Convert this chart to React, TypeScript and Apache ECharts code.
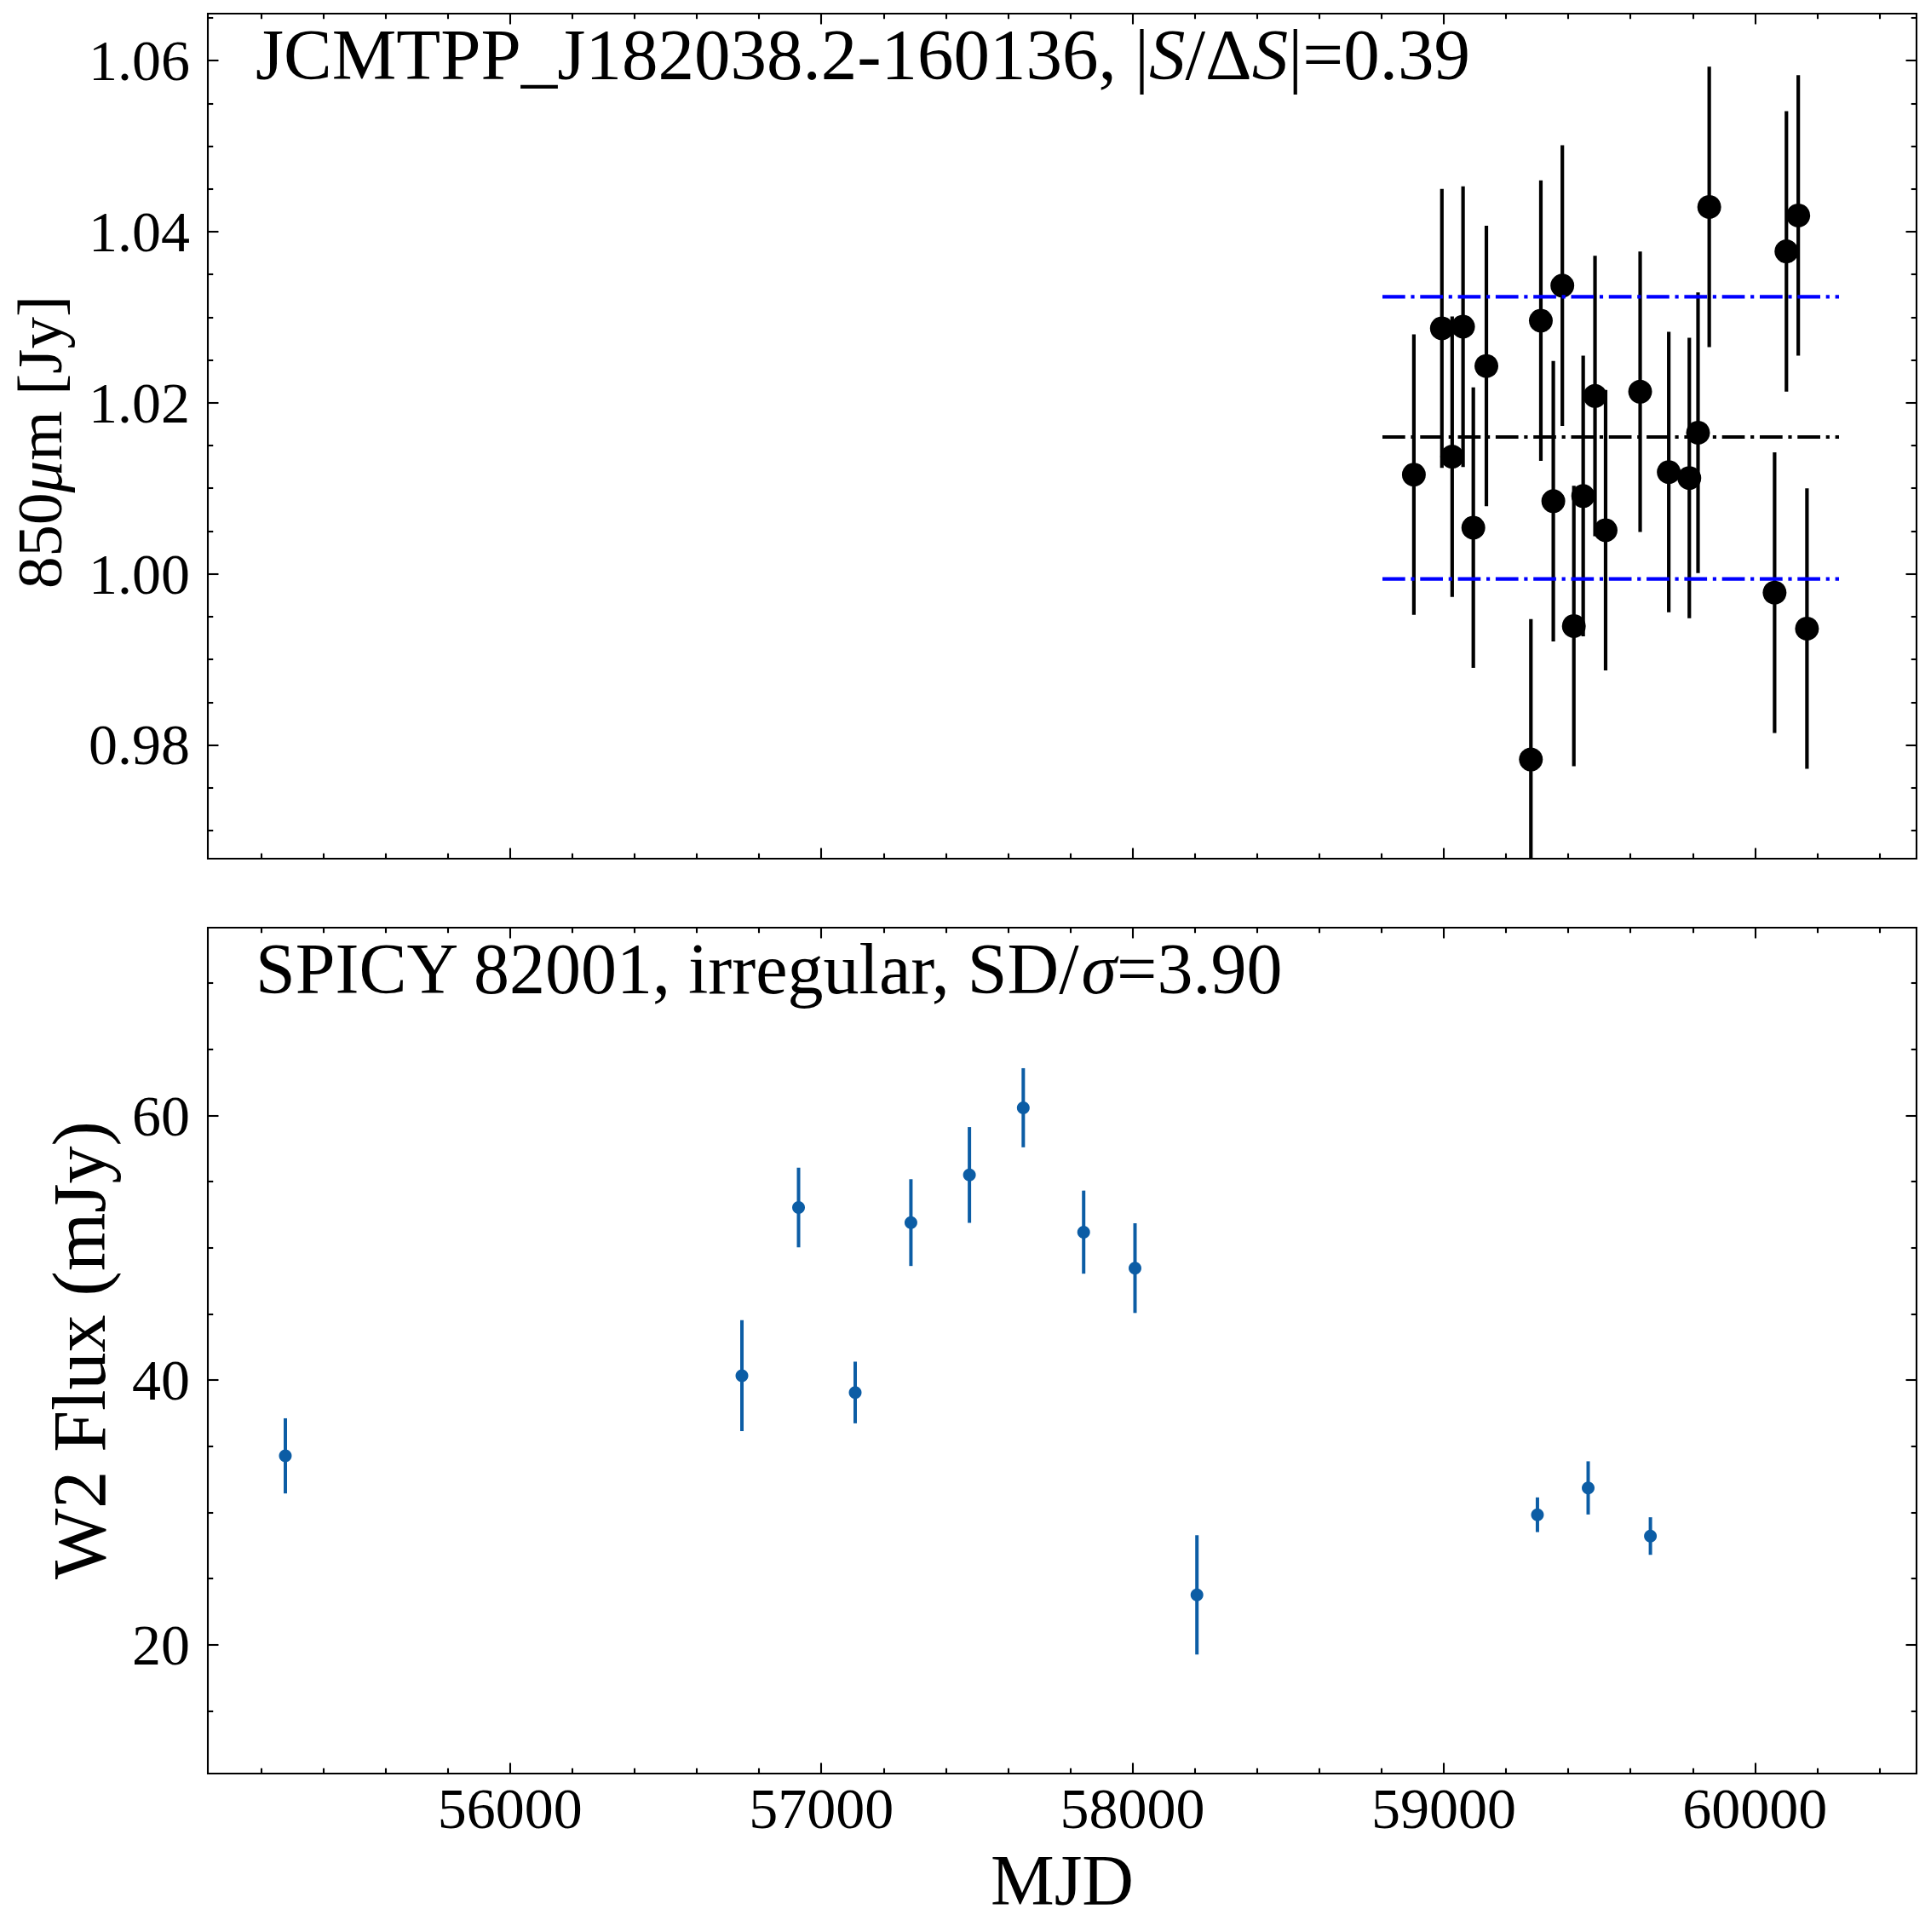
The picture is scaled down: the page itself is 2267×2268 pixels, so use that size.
import React, { useEffect, useRef } from "react";
import * as echarts from "echarts";

const FONT = "'Liberation Serif', 'Times New Roman', 'DejaVu Serif', serif";

// ---- Top panel: JCMT 850 micron ----
const jcmtMjd = [58904, 58994, 59027, 59062, 59095, 59137, 59280, 59312, 59352, 59381, 59418, 59448, 59486, 59520, 59631, 59723, 59789, 59817, 59853, 60063, 60101, 60139, 60167];
const jcmtFlux = [1.0116, 1.0287, 1.0137, 1.0289, 1.0054, 1.0243, 0.9783, 1.0296, 1.0085, 1.0337, 0.9939, 1.0091, 1.0208, 1.0051, 1.0213, 1.0119, 1.0112, 1.0165, 1.0429, 0.9978, 1.0377, 1.0419, 0.9936];
const jcmtErr = [0.0164, 0.0163, 0.0164, 0.0164, 0.0164, 0.0164, 0.0164, 0.0164, 0.0164, 0.0164, 0.0164, 0.0164, 0.0164, 0.0164, 0.0164, 0.0164, 0.0164, 0.0164, 0.0164, 0.0164, 0.0164, 0.0164, 0.0164];
const meanLevel = 1.016;
const sigmaLevels = [0.9994, 1.0324];
const hlineSpan = [58803, 60270];

// ---- Bottom panel: WISE W2 ----
const wiseMjd = [55278, 56745, 56927, 57109, 57288, 57476, 57649, 57843, 58008, 58207, 59301, 59464, 59664];
const wiseFlux = [34.28, 40.34, 53.05, 39.07, 51.91, 55.51, 60.59, 51.19, 48.47, 23.77, 29.83, 31.86, 28.22];
const wiseErr = [2.84, 4.19, 3.01, 2.33, 3.28, 3.62, 2.99, 3.14, 3.39, 4.51, 1.31, 2.01, 1.42];

// ---- Axes ----
const xRange = [55029, 60519];
const topYRange = [0.9667, 1.0655];
const botYRange = [10.27, 74.2];

const xMajor = [56000, 57000, 58000, 59000, 60000];
const xMinor = [55200, 55400, 55600, 55800, 56200, 56400, 56600, 56800, 57200, 57400, 57600, 57800, 58200, 58400, 58600, 58800, 59200, 59400, 59600, 59800, 60200, 60400];
const topYMajor = [0.98, 1.0, 1.02, 1.04, 1.06];
const topYMinor = [0.97, 0.975, 0.985, 0.99, 0.995, 1.005, 1.01, 1.015, 1.025, 1.03, 1.035, 1.045, 1.05, 1.055, 1.065];
const botYMajor = [20, 40, 60];
const botYMinor = [15, 25, 30, 35, 45, 50, 55, 65, 70];

const topTitle = "JCMTPP_J182038.2-160136, |{i|S}/Δ{i|S}|=0.39";
const botTitle = "SPICY 82001, irregular, SD/{i|σ}=3.90";
const topYLabel = "850{i|μ}m [Jy]";
const botYLabel = "W2 Flux (mJy)";
const xLabel = "MJD";

const TICK_W = 2.1;
const MAJOR_LEN = 12.5;
const MINOR_LEN = 6.25;
const LABEL_SIZE = 68;

function tickAxis(kind: "x" | "y", gridIndex: number, position: string, range: number[], values: number[], major: boolean, showLabels: boolean, fmt: (v: number) => string) {
  return {
    type: "value",
    gridIndex,
    position,
    min: range[0],
    max: range[1],
    splitLine: { show: false },
    axisLine: { show: false, onZero: false },
    axisTick: {
      show: true,
      inside: true,
      length: major ? MAJOR_LEN : MINOR_LEN,
      lineStyle: { color: "#000", width: TICK_W },
      customValues: values,
    },
    axisLabel: {
      show: showLabels,
      customValues: values,
      formatter: fmt,
      margin: kind === "x" ? 7 : 21,
      color: "#000",
      fontSize: LABEL_SIZE,
      fontFamily: FONT,
    },
  };
}

const fmtInt = (v: number) => String(Math.round(v));
const fmt2 = (v: number) => v.toFixed(2);

function errorBarSeries(xAxisIndex: number, yAxisIndex: number, xs: number[], ys: number[], es: number[], color: string, width: number) {
  return {
    type: "custom",
    xAxisIndex,
    yAxisIndex,
    clip: true,
    silent: true,
    z: 2,
    data: xs.map((x, i) => [x, ys[i], es[i]]),
    encode: { x: 0, y: 1 },
    renderItem: (params: any, api: any) => {
      const x = api.value(0);
      const y = api.value(1);
      const e = api.value(2);
      const p1 = api.coord([x, y - e]);
      const p2 = api.coord([x, y + e]);
      return {
        type: "line",
        shape: { x1: p1[0], y1: p1[1], x2: p2[0], y2: p2[1] },
        style: { stroke: color, lineWidth: width },
      };
    },
  };
}

function hline(level: number, color: string) {
  return {
    type: "line",
    xAxisIndex: 0,
    yAxisIndex: 0,
    silent: true,
    symbol: "none",
    z: 6,
    data: [
      [hlineSpan[0], level],
      [hlineSpan[1], level],
    ],
    lineStyle: { color, width: 4.2, type: [26.7, 6.7, 4.2, 6.7] },
  };
}

const richItalic = (size: number) => ({
  i: { fontStyle: "italic", fontSize: size, fontFamily: FONT, fill: "#000" },
});

function buildOption() {
  const xAxis = [
    tickAxis("x", 0, "bottom", xRange, xMajor, true, false, fmtInt),
    tickAxis("x", 0, "bottom", xRange, xMinor, false, false, fmtInt),
    tickAxis("x", 0, "top", xRange, xMajor, true, false, fmtInt),
    tickAxis("x", 0, "top", xRange, xMinor, false, false, fmtInt),
    tickAxis("x", 1, "bottom", xRange, xMajor, true, true, fmtInt),
    tickAxis("x", 1, "bottom", xRange, xMinor, false, false, fmtInt),
    tickAxis("x", 1, "top", xRange, xMajor, true, false, fmtInt),
    tickAxis("x", 1, "top", xRange, xMinor, false, false, fmtInt),
  ];
  const yAxis = [
    tickAxis("y", 0, "left", topYRange, topYMajor, true, true, fmt2),
    tickAxis("y", 0, "left", topYRange, topYMinor, false, false, fmt2),
    tickAxis("y", 0, "right", topYRange, topYMajor, true, false, fmt2),
    tickAxis("y", 0, "right", topYRange, topYMinor, false, false, fmt2),
    tickAxis("y", 1, "left", botYRange, botYMajor, true, true, fmtInt),
    tickAxis("y", 1, "left", botYRange, botYMinor, false, false, fmtInt),
    tickAxis("y", 1, "right", botYRange, botYMajor, true, false, fmtInt),
    tickAxis("y", 1, "right", botYRange, botYMinor, false, false, fmtInt),
  ];

  return {
    animation: false,
    backgroundColor: "#fff",
    textStyle: { fontFamily: FONT },
    grid: [
      { left: 244, top: 16, width: 2006, height: 992, show: true, borderColor: "#000", borderWidth: 2.1, backgroundColor: "transparent", containLabel: false },
      { left: 244, top: 1089, width: 2006, height: 993, show: true, borderColor: "#000", borderWidth: 2.1, backgroundColor: "transparent", containLabel: false },
    ],
    xAxis,
    yAxis,
    series: [
      errorBarSeries(0, 0, jcmtMjd, jcmtFlux, jcmtErr, "#000", 4.2),
      {
        type: "scatter",
        xAxisIndex: 0,
        yAxisIndex: 0,
        silent: true,
        z: 4,
        symbol: "circle",
        symbolSize: 28,
        itemStyle: { color: "#000", opacity: 1 },
        data: jcmtMjd.map((x, i) => [x, jcmtFlux[i]]),
      },
      hline(meanLevel, "#000"),
      hline(sigmaLevels[0], "#0000ff"),
      hline(sigmaLevels[1], "#0000ff"),
      errorBarSeries(4, 4, wiseMjd, wiseFlux, wiseErr, "#0C5DA5", 4.0),
      {
        type: "scatter",
        xAxisIndex: 4,
        yAxisIndex: 4,
        silent: true,
        z: 4,
        symbol: "circle",
        symbolSize: 15,
        itemStyle: { color: "#0C5DA5", opacity: 1 },
        data: wiseMjd.map((x, i) => [x, wiseFlux[i]]),
      },
    ],
    graphic: [
      {
        type: "text",
        x: 300,
        y: 63.5,
        z: 10,
        style: {
          text: topTitle,
          fill: "#000",
          fontSize: 85,
          fontFamily: FONT,
          align: "left",
          verticalAlign: "middle",
          textAlign: "left",
          textVerticalAlign: "middle",
          rich: richItalic(85),
        },
      },
      {
        type: "text",
        x: 300,
        y: 1137,
        z: 10,
        style: {
          text: botTitle,
          fill: "#000",
          fontSize: 84,
          fontFamily: FONT,
          align: "left",
          verticalAlign: "middle",
          textAlign: "left",
          textVerticalAlign: "middle",
          rich: richItalic(84),
        },
      },
      {
        type: "text",
        x: 46,
        y: 519,
        rotation: Math.PI / 2,
        z: 10,
        style: {
          text: topYLabel,
          fill: "#000",
          fontSize: 75,
          fontFamily: FONT,
          align: "center",
          verticalAlign: "middle",
          textAlign: "center",
          textVerticalAlign: "middle",
          rich: richItalic(75),
        },
      },
      {
        type: "text",
        x: 93,
        y: 1585,
        rotation: Math.PI / 2,
        z: 10,
        style: {
          text: botYLabel,
          fill: "#000",
          fontSize: 88,
          fontFamily: FONT,
          align: "center",
          verticalAlign: "middle",
          textAlign: "center",
          textVerticalAlign: "middle",
        },
      },
      {
        type: "text",
        x: 1247,
        y: 2207,
        z: 10,
        style: {
          text: xLabel,
          fill: "#000",
          fontSize: 84,
          fontFamily: FONT,
          align: "center",
          verticalAlign: "middle",
          textAlign: "center",
          textVerticalAlign: "middle",
        },
      },
    ],
  };
}

export default function App() {
  const ref = useRef<HTMLDivElement>(null);
  useEffect(() => {
    if (!ref.current) return;
    const chart = echarts.init(ref.current, null, { renderer: "svg", width: 2267, height: 2268 });
    chart.setOption(buildOption() as any);
    return () => {
      chart.dispose();
    };
  }, []);
  return (
    <div
      ref={ref}
      style={{ position: "absolute", left: 0, top: 0, width: 2267, height: 2268, background: "#fff" }}
    />
  );
}
